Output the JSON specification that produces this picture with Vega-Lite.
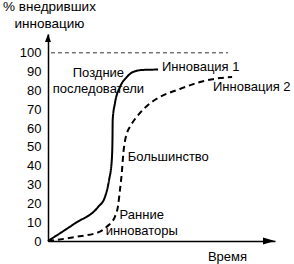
{
  "$schema": "https://vega.github.io/schema/vega-lite/v6.json",
  "width": 227,
  "height": 207,
  "autosize": {"type": "none"},
  "padding": {"left": 48, "top": 34, "right": 19, "bottom": 23},
  "background": "white",
  "config": {
    "view": {"stroke": null},
    "font": "Liberation Sans",
    "axis": {"grid": false, "labelFont": "Liberation Sans", "titleFont": "Liberation Sans"}
  },
  "datasets": {
    "curves": [
      {"series": "Инновация 1", "t": 0, "y": 0},
      {"series": "Инновация 1", "t": 11.9, "y": 9.4},
      {"series": "Инновация 1", "t": 22.0, "y": 18.0},
      {"series": "Инновация 1", "t": 25.1, "y": 23.4},
      {"series": "Инновация 1", "t": 26.9, "y": 32.4},
      {"series": "Инновация 1", "t": 28.1, "y": 43.0},
      {"series": "Инновация 1", "t": 28.4, "y": 53.7},
      {"series": "Инновация 1", "t": 28.5, "y": 64.4},
      {"series": "Инновация 1", "t": 29.5, "y": 73.3},
      {"series": "Инновация 1", "t": 31.7, "y": 81.8},
      {"series": "Инновация 1", "t": 34.7, "y": 87.1},
      {"series": "Инновация 1", "t": 37.4, "y": 89.8},
      {"series": "Инновация 1", "t": 41.9, "y": 90.9},
      {"series": "Инновация 1", "t": 48.5, "y": 91.1},
      {"series": "Инновация 2", "t": 0, "y": 0},
      {"series": "Инновация 2", "t": 11.9, "y": 2.1},
      {"series": "Инновация 2", "t": 22.9, "y": 5.0},
      {"series": "Инновация 2", "t": 26.0, "y": 7.7},
      {"series": "Инновация 2", "t": 29.5, "y": 13.0},
      {"series": "Инновация 2", "t": 30.8, "y": 18.3},
      {"series": "Инновация 2", "t": 31.7, "y": 27.1},
      {"series": "Инновация 2", "t": 32.5, "y": 36.1},
      {"series": "Инновация 2", "t": 33.2, "y": 46.8},
      {"series": "Инновация 2", "t": 34.0, "y": 53.7},
      {"series": "Инновация 2", "t": 34.8, "y": 57.4},
      {"series": "Инновация 2", "t": 36.1, "y": 60.7},
      {"series": "Инновация 2", "t": 38.3, "y": 64.8},
      {"series": "Инновация 2", "t": 40.5, "y": 68.0},
      {"series": "Инновация 2", "t": 44.9, "y": 73.1},
      {"series": "Инновация 2", "t": 49.3, "y": 76.5},
      {"series": "Инновация 2", "t": 58.1, "y": 80.8},
      {"series": "Инновация 2", "t": 67.0, "y": 84.5},
      {"series": "Инновация 2", "t": 75.8, "y": 86.6},
      {"series": "Инновация 2", "t": 81.1, "y": 87.1}
    ],
    "limit": [{"t1": 1.3, "t2": 79.3, "y": 100}],
    "arrows": [
      {"dir": "up", "t": 0, "y": 110},
      {"dir": "right", "t": 100, "y": 0}
    ],
    "labelsCenter": [
      {"label": "Поздние", "t": 22.2, "y": 89.5},
      {"label": "последователи", "t": 22.2, "y": 80.8},
      {"label": "Ранние", "t": 41.3, "y": 13.8},
      {"label": "инноваторы", "t": 41.3, "y": 5.3}
    ],
    "labelsLeft": [
      {"label": "Инновация 1", "t": 50.2, "y": 92.6},
      {"label": "Инновация 2", "t": 72.7, "y": 82.0},
      {"label": "Большинство", "t": 35.1, "y": 44.6}
    ]
  },
  "encoding": {
    "x": {
      "field": "t", "type": "quantitative",
      "scale": {"domain": [0, 100], "nice": false, "zero": false},
      "axis": {
        "title": "Время", "titleFontSize": 13, "titleFontWeight": "normal", "titleColor": "black",
        "titleX": 179, "titleY": 15, "titleBaseline": "middle", "titleAlign": "center",
        "labels": false, "ticks": false, "domainColor": "black", "domainWidth": 1.5
      }
    },
    "y": {
      "field": "y", "type": "quantitative",
      "scale": {"domain": [0, 110], "nice": false, "zero": false},
      "axis": {
        "title": ["% внедривших", "инновацию"], "titleFontSize": 13.5, "titleFontWeight": "normal", "titleColor": "black",
        "titleAngle": 0, "titleX": 1, "titleY": -23.3, "titleAlign": "center", "titleBaseline": "alphabetic", "titleLineHeight": 17,
        "values": [0, 10, 20, 30, 40, 50, 60, 70, 80, 90, 100],
        "labelFontSize": 13, "labelColor": "black", "labelPadding": 7,
        "ticks": false, "domainColor": "black", "domainWidth": 1.5
      }
    }
  },
  "layer": [
    {
      "data": {"name": "limit"},
      "mark": {"type": "rule", "color": "#333", "strokeWidth": 1, "strokeDash": [4, 3]},
      "encoding": {
        "x": {"field": "t1", "type": "quantitative"},
        "x2": {"field": "t2"},
        "y": {"field": "y", "type": "quantitative"}
      }
    },
    {
      "data": {"name": "curves"},
      "mark": {"type": "line", "interpolate": "monotone", "strokeWidth": 2, "color": "black"},
      "encoding": {
        "detail": {"field": "series"},
        "strokeDash": {
          "field": "series", "type": "nominal",
          "scale": {"domain": ["Инновация 1", "Инновация 2"], "range": [[1, 0], [6, 4]]},
          "legend": null
        }
      }
    },
    {
      "data": {"name": "arrows"},
      "mark": {"type": "point", "filled": true, "color": "black", "opacity": 1, "size": 64},
      "encoding": {
        "shape": {
          "field": "dir", "type": "nominal",
          "scale": {"domain": ["up", "right"], "range": ["M0,0L-0.75,2L0.75,2Z", "M0,0L-3,-0.875L-3,0.875Z"]},
          "legend": null
        }
      }
    },
    {
      "data": {"name": "labelsCenter"},
      "mark": {"type": "text", "align": "center", "baseline": "middle", "fontSize": 13, "color": "black", "font": "Liberation Sans"},
      "encoding": {"text": {"field": "label"}}
    },
    {
      "data": {"name": "labelsLeft"},
      "mark": {"type": "text", "align": "left", "baseline": "middle", "fontSize": 13, "color": "black", "font": "Liberation Sans"},
      "encoding": {"text": {"field": "label"}}
    }
  ]
}
